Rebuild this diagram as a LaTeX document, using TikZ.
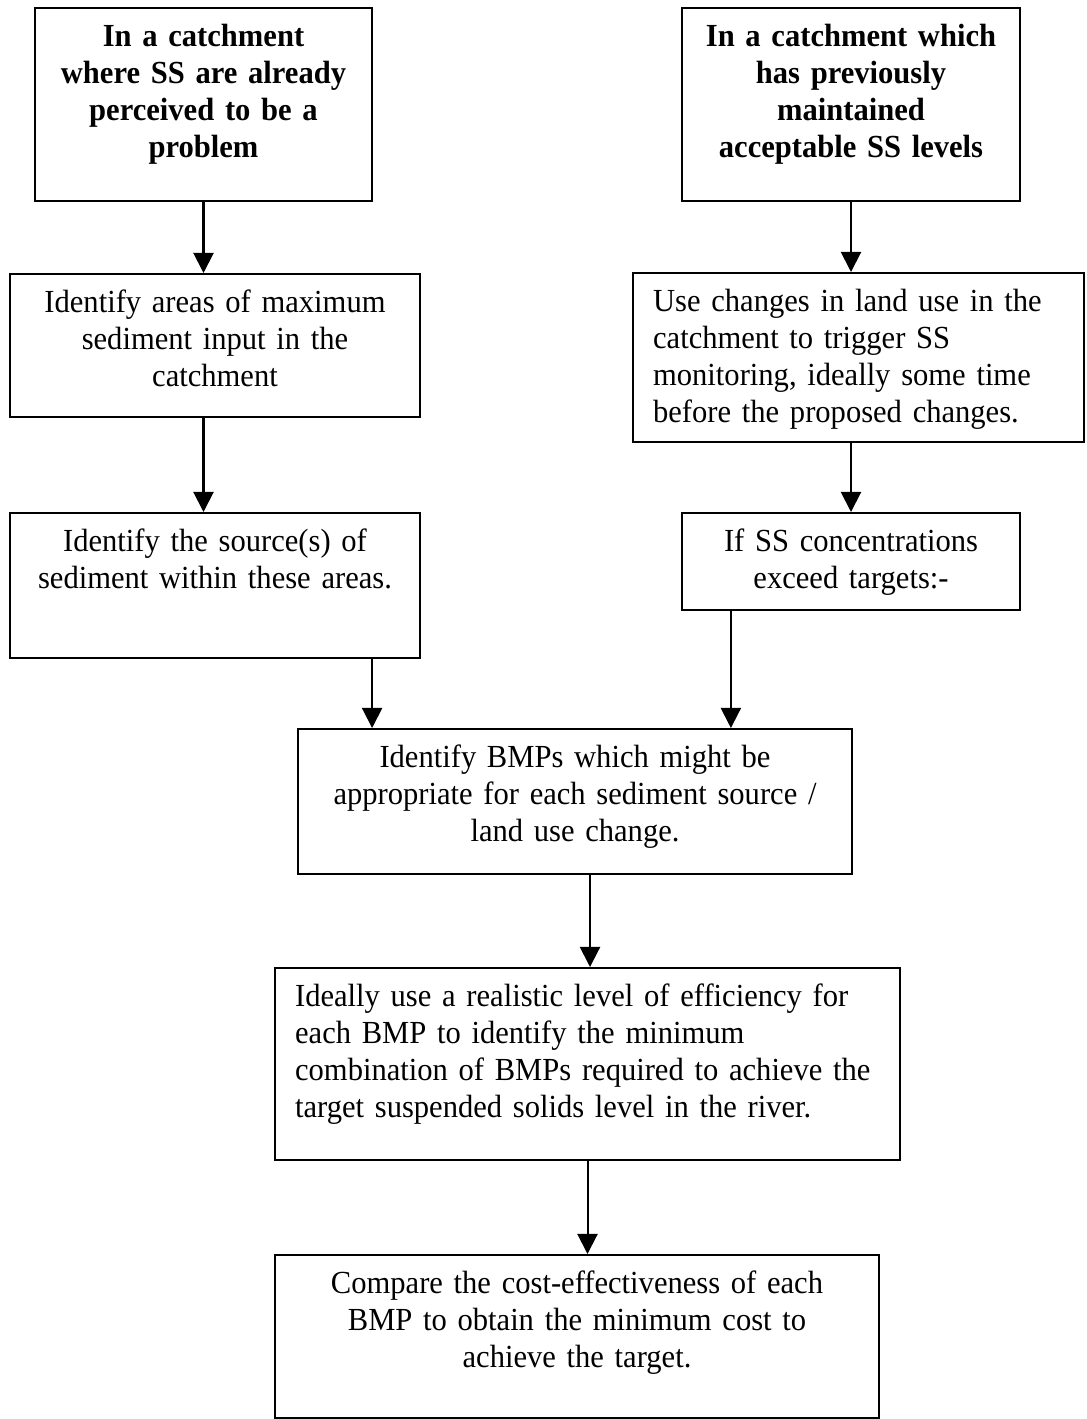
\documentclass[tikz,border=0pt]{standalone}
\usepackage{fontspec}
\setmainfont{Liberation Serif}[FakeStretch=0.95, WordSpace=0.85]
\usepackage{tikz}
\usetikzlibrary{positioning, calc, arrows.meta}

\begin{document}
\begin{tikzpicture}[
  x=0.373pt, y=-0.373pt,
  font=\fontsize{12pt}{13.8pt}\selectfont,
  figbox/.style={
    rectangle, draw=black, line width=0.75pt, anchor=north,
    inner xsep=3pt, inner ysep=3.6pt, text height=10.9pt, align=center,
  },
  figheadbox/.style={
    figbox, font=\fontsize{12pt}{13.8pt}\selectfont\bfseries,
  },
  figleftbox/.style={
    figbox, inner xsep=7.5pt, align=left,
  },
  figflow/.style={
    -{Triangle[length=7.5pt, width=7.5pt]}, line width=0.75pt,
  },
]
\useasboundingbox (0,0) rectangle (1086,1419);
% starting points
\node[figheadbox, text width=119.7pt, text depth=53.9pt] (figproblem) at (203.5,7) {%
  In a catchment\\ where SS are already\\ perceived to be a\\ problem%
};
\node[figheadbox, text width=120.1pt, text depth=53.9pt] (figstable) at (851,7) {%
  In a catchment which\\ has previously\\ maintained\\ acceptable SS levels%
};
% left branch
\node[figbox, text width=146.9pt, text depth=35.2pt] (figareas) at (215,273) {%
  Identify areas of maximum\\ sediment input in the\\ catchment%
};
\node[figbox, text width=146.9pt, text depth=36.0pt] (figsources) at (215,512) {%
  Identify the source(s) of\\ sediment within these areas.%
};
% right branch
\node[figleftbox, text width=153.2pt, text depth=44.9pt] (figlanduse) at (858.5,272) {%
  Use changes in land use in the\\ catchment to trigger SS\\ monitoring, ideally some time\\ before the proposed changes.%
};
\node[figbox, text width=120.1pt, text depth=18.1pt] (figexceed) at (851,512) {%
  If SS concentrations\\ exceed targets:-%
};
% common steps
\node[figbox, text width=200.6pt, text depth=36.0pt] (figbmps) at (575,728) {%
  Identify BMPs which might be\\ appropriate for each sediment source /\\ land use change.%
};
\node[figleftbox, text width=218.1pt, text depth=53.5pt] (figcombo) at (587.5,967) {%
  Ideally use a realistic level of efficiency for\\ each BMP to identify the minimum\\ combination of BMPs required to achieve the\\ target suspended solids level in the river.%
};
\node[figbox, text width=219.3pt, text depth=42.7pt] (figcost) at (577,1254) {%
  Compare the cost-effectiveness of each\\ BMP to obtain the minimum cost to\\ achieve the target.%
};
% arrows
\draw[figflow] (figproblem.south) -- (figproblem.south |- figareas.north);
\draw[figflow] (figstable.south) -- (figstable.south |- figlanduse.north);
\draw[figflow] (figproblem.south |- figareas.south) -- (figproblem.south |- figsources.north);
\draw[figflow] (figexceed.north |- figlanduse.south) -- (figexceed.north);
\draw[figflow] ([xshift=58.6pt]figsources.south) -- ([xshift=58.6pt]figsources.south |- figbmps.north);
\draw[figflow] ([xshift=-44.8pt]figexceed.south) -- ([xshift=-44.8pt]figexceed.south |- figbmps.north);
\draw[figflow] ([xshift=5.6pt]figbmps.south) -- ([xshift=5.6pt]figbmps.south |- figcombo.north);
\draw[figflow] (figcombo.south) -- (figcombo.south |- figcost.north);
\end{tikzpicture}
\end{document}
